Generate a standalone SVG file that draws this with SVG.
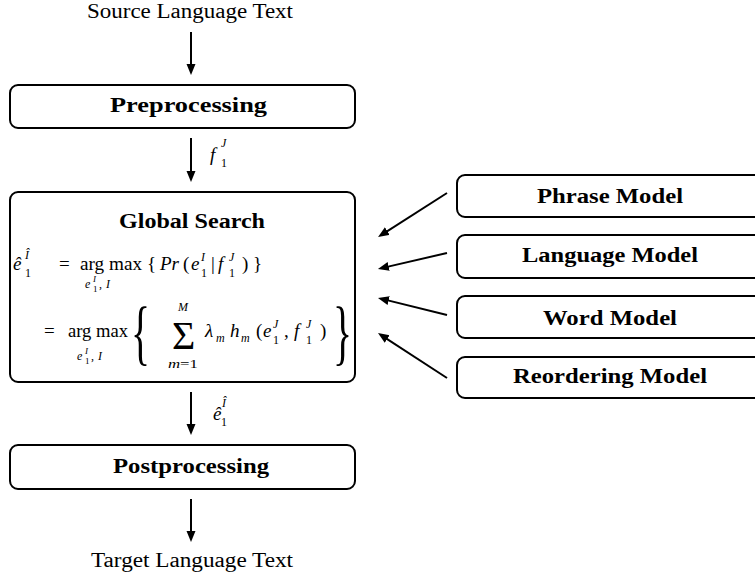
<svg xmlns="http://www.w3.org/2000/svg" width="755" height="577" viewBox="0 0 755 577">
  <style>
    .box { fill: #ffffff; stroke: #000000; stroke-width: 2; }
    .edge { stroke: #000000; stroke-width: 2; fill: none; marker-end: url(#tip); }
    .lbl { font-family: "Liberation Serif", serif; font-size: 20px; font-weight: bold; text-anchor: middle; fill: #000; }
    .plain { font-family: "Liberation Serif", serif; font-size: 20px; text-anchor: middle; fill: #000; }
    .mi { font-family: "Liberation Serif", serif; font-style: italic; font-size: 19px; fill: #000; }
    .mr { font-family: "Liberation Serif", serif; font-size: 19px; fill: #000; }
    .si { font-family: "Liberation Serif", serif; font-style: italic; font-size: 12px; fill: #000; }
    .sr { font-family: "Liberation Serif", serif; font-size: 12px; fill: #000; }
    .ssi { font-family: "Liberation Serif", serif; font-style: italic; font-size: 9px; fill: #000; }
    .ssr { font-family: "Liberation Serif", serif; font-size: 9px; fill: #000; }
    .big { font-family: "Liberation Serif", serif; font-size: 72px; fill: #000; }
    .sum { font-family: "Liberation Serif", serif; font-size: 40px; fill: #000; }
  </style>
  <defs>
    <marker id="tip" markerUnits="userSpaceOnUse" markerWidth="14" markerHeight="12" refX="5" refY="4.5" orient="auto">
      <path d="M0,0 L11,4.5 L0,9 Z" fill="#000"/>
    </marker>
  </defs>

  <text class="plain" x="190" y="18" textLength="206" lengthAdjust="spacingAndGlyphs">Source Language Text</text>

  <g id="preprocessing">
    <rect class="box" x="10" y="85" width="345" height="43" rx="8"/>
    <text class="lbl" x="188.5" y="112" textLength="157" lengthAdjust="spacingAndGlyphs">Preprocessing</text>
  </g>

  <g id="global-search">
    <rect class="box" x="10" y="192" width="345" height="190" rx="8"/>
    <text class="lbl" x="192" y="228" textLength="146" lengthAdjust="spacingAndGlyphs">Global Search</text>
    <!-- first line: e^I_1 = argmax { Pr(e|f) } -->
    <text class="mi" x="13" y="270">ê</text>
    <text class="si" x="25" y="259">Î</text>
    <text class="sr" x="25" y="277">1</text>
    <text class="mr" x="59" y="270">=</text>
    <text class="mr" x="80" y="270" textLength="62" lengthAdjust="spacingAndGlyphs">arg max</text>
    <text class="si" x="85" y="288">e</text>
    <text class="ssi" x="93" y="282">I</text>
    <text class="ssr" x="93" y="292">1</text>
    <text class="sr" x="99" y="288">,</text>
    <text class="si" x="106" y="288">I</text>
    <text class="mr" x="147" y="270">{</text>
    <text class="mi" x="160" y="270">Pr</text>
    <text class="mr" x="183" y="270">(</text>
    <text class="mi" x="191" y="270">e</text>
    <text class="si" x="201" y="261">I</text>
    <text class="sr" x="201" y="277">1</text>
    <text class="mr" x="211" y="270">|</text>
    <text class="mi" x="218" y="270">f</text>
    <text class="si" x="229" y="261">J</text>
    <text class="sr" x="229" y="277">1</text>
    <text class="mr" x="242" y="270">)</text>
    <text class="mr" x="253" y="270">}</text>
    <!-- second line: = argmax { sum lambda_m h_m(e,f) } -->
    <text class="mr" x="44" y="337">=</text>
    <text class="mr" x="68" y="337" textLength="60" lengthAdjust="spacingAndGlyphs">arg max</text>
    <text class="si" x="77" y="360">e</text>
    <text class="ssi" x="85" y="354">I</text>
    <text class="ssr" x="85" y="364">1</text>
    <text class="sr" x="91" y="360">,</text>
    <text class="si" x="98" y="360">I</text>
    <text class="big" transform="translate(131 356) scale(0.55 1)">{</text>
    <text class="sum" x="172" y="349">Σ</text>
    <text class="si" x="178" y="311">M</text>
    <text class="si" x="168" y="368" textLength="30" lengthAdjust="spacingAndGlyphs">m<tspan font-style="normal">=1</tspan></text>
    <text class="mi" x="205" y="337">λ</text>
    <text class="si" x="216" y="342">m</text>
    <text class="mi" x="230" y="337">h</text>
    <text class="si" x="241" y="342">m</text>
    <text class="mr" x="256" y="337">(</text>
    <text class="mi" x="263" y="337">e</text>
    <text class="si" x="273" y="328">J</text>
    <text class="sr" x="273" y="344">1</text>
    <text class="mr" x="284" y="337">,</text>
    <text class="mi" x="294" y="337">f</text>
    <text class="si" x="306" y="328">J</text>
    <text class="sr" x="306" y="344">1</text>
    <text class="mr" x="320" y="337">)</text>
    <text class="big" transform="translate(333 356) scale(0.55 1)">}</text>
  </g>

  <g id="postprocessing">
    <rect class="box" x="10" y="445" width="345" height="44" rx="8"/>
    <text class="lbl" x="191" y="473" textLength="156" lengthAdjust="spacingAndGlyphs">Postprocessing</text>
  </g>

  <text class="plain" x="192" y="567" textLength="202" lengthAdjust="spacingAndGlyphs">Target Language Text</text>

  <g id="phrase-model">
    <rect class="box" x="457" y="175" width="310" height="42" rx="8"/>
    <text class="lbl" x="610" y="203" textLength="146" lengthAdjust="spacingAndGlyphs">Phrase Model</text>
  </g>
  <g id="language-model">
    <rect class="box" x="457" y="235" width="310" height="43" rx="8"/>
    <text class="lbl" x="610" y="262" textLength="176" lengthAdjust="spacingAndGlyphs">Language Model</text>
  </g>
  <g id="word-model">
    <rect class="box" x="457" y="296" width="310" height="42" rx="8"/>
    <text class="lbl" x="610" y="325" textLength="134" lengthAdjust="spacingAndGlyphs">Word Model</text>
  </g>
  <g id="reordering-model">
    <rect class="box" x="457" y="357" width="310" height="41" rx="8"/>
    <text class="lbl" x="610" y="383" textLength="194" lengthAdjust="spacingAndGlyphs">Reordering Model</text>
  </g>

  <g id="connectors">
    <line class="edge" x1="191" y1="32" x2="191" y2="69"/>
    <line class="edge" x1="191" y1="138" x2="191" y2="176"/>
    <line class="edge" x1="191" y1="392" x2="191" y2="429"/>
    <line class="edge" x1="191" y1="499" x2="191" y2="536"/>
    <line class="edge" x1="447" y1="193" x2="383.1" y2="233.8"/>
    <line class="edge" x1="447" y1="253" x2="383.8" y2="267.6"/>
    <line class="edge" x1="447" y1="315" x2="383.8" y2="299.4"/>
    <line class="edge" x1="447" y1="378" x2="383.0" y2="336.3"/>
    <!-- edge labels -->
    <text class="mi" x="210" y="161">f</text>
    <text class="si" x="221" y="147">J</text>
    <text class="sr" x="221" y="167">1</text>
    <text class="mi" x="213" y="420">ê</text>
    <text class="si" x="222" y="407">Î</text>
    <text class="sr" x="221" y="426">1</text>
  </g>
</svg>
